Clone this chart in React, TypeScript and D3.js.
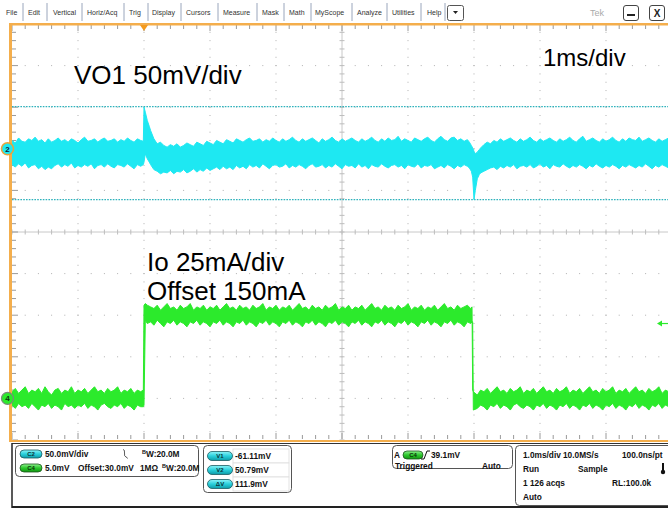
import React from "react";
import * as d3 from "d3";

const W = 668;
const H = 510;

// ---------- data ----------
const timeDomainMs: [number, number] = [-2, 8];
const divDomain: [number, number] = [-5, 5];
const vo1MvPerDiv = 50;
const vo1PositionDiv = 2;
const ioMaPerDiv = 25;
const ioOffsetMa = 150;
const ioPositionDiv = -4;
const cursorMv = [-61.11, 50.79];

// [time ms, upper envelope mV, lower envelope mV]
const vo1Band: [number, number, number][] = [
  [-2.00, 10, -19], [-1.95, 7, -22], [-1.90, 13, -18], [-1.85, 9, -21], [-1.80, 8, -17],
  [-1.75, 12, -23], [-1.70, 10, -20], [-1.65, 14, -19], [-1.60, 9, -24], [-1.55, 11, -21],
  [-1.50, 7, -25], [-1.45, 12, -22], [-1.40, 8, -24], [-1.35, 10, -20], [-1.30, 13, -18],
  [-1.25, 9, -22], [-1.20, 11, -19], [-1.15, 8, -21], [-1.10, 12, -17], [-1.05, 10, -23],
  [-1.00, 7, -20], [-0.95, 11, -22], [-0.90, 14, -19], [-0.85, 9, -21], [-0.80, 10, -18],
  [-0.75, 12, -24], [-0.70, 8, -20], [-0.65, 11, -19], [-0.60, 13, -22], [-0.55, 9, -18],
  [-0.50, 10, -21], [-0.45, 12, -23], [-0.40, 8, -19], [-0.35, 11, -20], [-0.30, 9, -22],
  [-0.25, 13, -18], [-0.20, 10, -21], [-0.15, 8, -24], [-0.10, 12, -19], [-0.05, 10, -21],
  [-0.01, 9, -19], [0.00, 50, -16], [0.02, 44, -6], [0.05, 34, -12], [0.08, 27, -16],
  [0.10, 22, -19], [0.15, 12, -25], [0.20, 6, -27], [0.25, 8, -30], [0.30, 4, -28],
  [0.35, 2, -29], [0.40, 5, -26], [0.45, 3, -30], [0.50, 6, -27], [0.55, 2, -28],
  [0.60, 4, -25], [0.65, 7, -29], [0.70, 5, -27], [0.75, 3, -24], [0.80, 8, -28],
  [0.85, 6, -25], [0.90, 4, -27], [0.95, 9, -23], [1.00, 7, -26], [1.05, 5, -24],
  [1.10, 10, -22], [1.15, 8, -25], [1.20, 6, -21], [1.25, 11, -24], [1.30, 9, -22],
  [1.35, 7, -25], [1.40, 12, -20], [1.45, 10, -23], [1.50, 8, -21], [1.55, 11, -24],
  [1.60, 13, -19], [1.65, 9, -22], [1.70, 10, -20], [1.75, 12, -23], [1.80, 8, -18],
  [1.85, 11, -21], [1.90, 9, -24], [1.95, 13, -20], [2.00, 10, -19], [2.05, 8, -22],
  [2.10, 12, -21], [2.15, 9, -18], [2.20, 11, -23], [2.25, 14, -20], [2.30, 10, -22],
  [2.35, 8, -19], [2.40, 12, -21], [2.45, 9, -24], [2.50, 11, -20], [2.55, 13, -18],
  [2.60, 10, -22], [2.65, 7, -21], [2.70, 12, -19], [2.75, 9, -23], [2.80, 11, -20],
  [2.85, 14, -22], [2.90, 10, -18], [2.95, 8, -21], [3.00, 12, -24], [3.05, 9, -19],
  [3.10, 11, -21], [3.15, 13, -20], [3.20, 10, -23], [3.25, 8, -18], [3.30, 12, -22],
  [3.35, 9, -20], [3.40, 11, -24], [3.45, 14, -19], [3.50, 10, -21], [3.55, 8, -22],
  [3.60, 12, -18], [3.65, 9, -21], [3.70, 13, -23], [3.75, 10, -20], [3.80, 11, -19],
  [3.85, 15, -22], [3.90, 9, -20], [3.95, 12, -24], [4.00, 10, -19], [4.05, 8, -21],
  [4.10, 13, -22], [4.15, 11, -18], [4.20, 9, -23], [4.25, 12, -20], [4.30, 14, -21],
  [4.35, 10, -19], [4.40, 8, -24], [4.45, 12, -22], [4.50, 15, -20], [4.55, 11, -23],
  [4.60, 9, -19], [4.65, 13, -21], [4.70, 14, -24], [4.75, 10, -20], [4.80, 12, -22],
  [4.85, 9, -19], [4.90, 11, -21], [4.93, 8, -23], [4.96, 4, -27], [4.98, 1, -34],
  [5.00, -3, -61], [5.02, -6, -50], [5.05, -4, -36], [5.08, -1, -31], [5.10, 1, -29],
  [5.15, 5, -27], [5.20, 8, -25], [5.25, 6, -23], [5.30, 10, -22], [5.35, 8, -25],
  [5.40, 12, -21], [5.45, 9, -23], [5.50, 11, -20], [5.55, 13, -22], [5.60, 10, -19],
  [5.65, 8, -24], [5.70, 12, -21], [5.75, 9, -20], [5.80, 11, -22], [5.85, 14, -19],
  [5.90, 10, -23], [5.95, 8, -21], [6.00, 12, -18], [6.05, 9, -22], [6.10, 11, -20],
  [6.15, 13, -24], [6.20, 10, -19], [6.25, 8, -21], [6.30, 12, -22], [6.35, 9, -18],
  [6.40, 11, -21], [6.45, 14, -23], [6.50, 10, -20], [6.55, 8, -22], [6.60, 12, -19],
  [6.65, 15, -21], [6.70, 9, -24], [6.75, 11, -20], [6.80, 13, -22], [6.85, 10, -18],
  [6.90, 8, -21], [6.95, 12, -23], [7.00, 9, -20], [7.05, 11, -22], [7.10, 14, -19],
  [7.15, 10, -21], [7.20, 8, -24], [7.25, 12, -20], [7.30, 9, -22], [7.35, 13, -19],
  [7.40, 11, -21], [7.45, 10, -23], [7.50, 14, -20], [7.55, 9, -22], [7.60, 11, -18],
  [7.65, 13, -21], [7.70, 10, -24], [7.75, 8, -20], [7.80, 12, -22], [7.85, 9, -19],
  [7.90, 11, -21], [7.95, 13, -23], [8.00, 10, -20],
];

// [time ms, upper envelope mA, lower envelope mA]
const ioBand: [number, number, number][] = [
  [-2.00, 154, 146], [-1.95, 156, 144], [-1.90, 153, 147], [-1.85, 155, 145], [-1.80, 157, 146],
  [-1.75, 153, 144], [-1.70, 155, 147], [-1.65, 154, 145], [-1.60, 156, 143], [-1.55, 153, 146],
  [-1.50, 157, 145], [-1.45, 154, 147], [-1.40, 152, 144], [-1.35, 155, 146], [-1.30, 156, 145],
  [-1.25, 153, 143], [-1.20, 155, 147], [-1.15, 154, 145], [-1.10, 157, 146], [-1.05, 153, 144],
  [-1.00, 155, 146], [-0.95, 154, 145], [-0.90, 156, 147], [-0.85, 153, 144], [-0.80, 155, 146],
  [-0.75, 157, 145], [-0.70, 154, 143], [-0.65, 155, 146], [-0.60, 153, 147], [-0.55, 156, 145],
  [-0.50, 154, 144], [-0.45, 155, 146], [-0.40, 157, 145], [-0.35, 153, 147], [-0.30, 155, 144],
  [-0.25, 154, 146], [-0.20, 156, 145], [-0.15, 153, 143], [-0.10, 155, 146], [-0.05, 154, 145],
  [-0.01, 155, 145], [0.00, 206, 146], [0.02, 207, 197], [0.05, 206, 195], [0.10, 205, 196],
  [0.15, 204, 194], [0.20, 206, 197], [0.25, 203, 195], [0.30, 205, 193], [0.35, 207, 196],
  [0.40, 204, 195], [0.45, 205, 197], [0.50, 203, 194], [0.55, 206, 196], [0.60, 204, 195],
  [0.65, 205, 193], [0.70, 207, 196], [0.75, 203, 195], [0.80, 205, 197], [0.85, 204, 194],
  [0.90, 206, 196], [0.95, 203, 195], [1.00, 205, 193], [1.05, 204, 196], [1.10, 206, 195],
  [1.15, 203, 197], [1.20, 205, 194], [1.25, 207, 196], [1.30, 204, 195], [1.35, 205, 193],
  [1.40, 203, 196], [1.45, 206, 195], [1.50, 204, 197], [1.55, 205, 194], [1.60, 203, 196],
  [1.65, 206, 195], [1.70, 204, 193], [1.75, 205, 196], [1.80, 207, 195], [1.85, 203, 197],
  [1.90, 205, 194], [1.95, 204, 196], [2.00, 206, 195], [2.05, 203, 193], [2.10, 205, 196],
  [2.15, 204, 195], [2.20, 206, 197], [2.25, 203, 194], [2.30, 205, 196], [2.35, 207, 195],
  [2.40, 204, 193], [2.45, 205, 196], [2.50, 203, 195], [2.55, 206, 197], [2.60, 204, 194],
  [2.65, 205, 196], [2.70, 203, 195], [2.75, 206, 193], [2.80, 204, 196], [2.85, 205, 195],
  [2.90, 207, 197], [2.95, 203, 194], [3.00, 205, 196], [3.05, 204, 195], [3.10, 206, 193],
  [3.15, 203, 196], [3.20, 205, 195], [3.25, 204, 197], [3.30, 206, 194], [3.35, 203, 196],
  [3.40, 205, 195], [3.45, 207, 193], [3.50, 204, 196], [3.55, 205, 195], [3.60, 203, 197],
  [3.65, 206, 194], [3.70, 204, 196], [3.75, 205, 195], [3.80, 203, 193], [3.85, 206, 196],
  [3.90, 204, 195], [3.95, 205, 197], [4.00, 207, 194], [4.05, 203, 196], [4.10, 205, 195],
  [4.15, 204, 193], [4.20, 206, 196], [4.25, 203, 195], [4.30, 205, 197], [4.35, 204, 194],
  [4.40, 206, 196], [4.45, 203, 195], [4.50, 205, 193], [4.55, 207, 196], [4.60, 204, 195],
  [4.65, 205, 197], [4.70, 203, 194], [4.75, 206, 196], [4.80, 204, 195], [4.85, 205, 193],
  [4.90, 206, 196], [4.95, 204, 195], [4.97, 205, 196], [4.98, 155, 196], [4.99, 154, 143],
  [5.05, 152, 144], [5.10, 155, 146], [5.15, 154, 145], [5.20, 156, 143], [5.25, 153, 146],
  [5.30, 155, 145], [5.35, 157, 147], [5.40, 154, 144], [5.45, 155, 146], [5.50, 153, 145],
  [5.55, 156, 143], [5.60, 154, 146], [5.65, 155, 147], [5.70, 157, 145], [5.75, 153, 144],
  [5.80, 155, 146], [5.85, 154, 145], [5.90, 156, 143], [5.95, 153, 146], [6.00, 155, 145],
  [6.05, 157, 147], [6.10, 154, 144], [6.15, 155, 146], [6.20, 153, 145], [6.25, 156, 143],
  [6.30, 154, 146], [6.35, 155, 145], [6.40, 157, 147], [6.45, 153, 144], [6.50, 155, 146],
  [6.55, 154, 145], [6.60, 156, 143], [6.65, 153, 146], [6.70, 155, 145], [6.75, 157, 147],
  [6.80, 154, 144], [6.85, 155, 146], [6.90, 153, 145], [6.95, 156, 143], [7.00, 154, 146],
  [7.05, 155, 145], [7.10, 157, 147], [7.15, 153, 144], [7.20, 155, 146], [7.25, 154, 145],
  [7.30, 156, 143], [7.35, 153, 146], [7.40, 155, 145], [7.45, 157, 147], [7.50, 154, 144],
  [7.55, 155, 146], [7.60, 153, 145], [7.65, 156, 143], [7.70, 154, 146], [7.75, 155, 145],
  [7.80, 157, 147], [7.85, 153, 144], [7.90, 155, 146], [7.95, 154, 145], [8.00, 156, 144],
];

const menuItems = ["File", "Edit", "Vertical", "Horiz/Acq", "Trig", "Display", "Cursors",
  "Measure", "Mask", "Math", "MyScope", "Analyze", "Utilities", "Help"];
const chartLabels = ["VO1 50mV/div", "1ms/div", "Io 25mA/div", "Offset 150mA"];
const ch2Readout = ["50.0mV/div", "20.0M"];
const ch4Readout = ["5.0mV", "Offset:30.0mV", "1MΩ", "20.0M"];
const cursorReadout = [["V1", "-61.11mV"], ["V2", "50.79mV"], ["ΔV", "111.9mV"]];
const triggerReadout = ["A", "C4", "39.1mV", "Triggered", "Auto"];
const acqReadout = ["1.0ms/div", "10.0MS/s", "100.0ns/pt", "Run", "Sample", "1 126 acqs", "RL:100.0k", "Auto"];

// ---------- layout ----------
const SX0 = 12, SX1 = 672, SY0 = 24, SY1 = 440;
const menuLayoutX = [6, 28, 53, 87, 129, 152, 186, 223, 262, 289, 315, 357, 392, 427];
const menuSepX = [23, 47, 82, 124, 148, 181, 218, 257, 284, 311, 352, 387, 421, 445];
const FONT = "'Liberation Sans', Arial, sans-serif";
const ORANGE = "#f4ae4c";
const CYAN = "#1ee8f2";
const GREEN = "#2cea2c";

const x = d3.scaleLinear().domain(timeDomainMs).range([SX0, SX1]);
const yDiv = d3.scaleLinear().domain(divDomain).range([SY1, SY0]);
const yVo = (mv: number) => yDiv(vo1PositionDiv + mv / vo1MvPerDiv);
const yIo = (ma: number) => yDiv(ioPositionDiv + (ma - ioOffsetMa) / ioMaPerDiv);

function Pill({ cx, cy, w, h, kind, label }: { cx: number; cy: number; w: number; h: number; kind: "c" | "g"; label: string }) {
  return (
    <g>
      <rect x={cx - w / 2} y={cy - h / 2} width={w} height={h} rx={h / 2}
        fill={`url(#pill-${kind})`} stroke={kind === "c" ? "#1c5c62" : "#1d561d"} strokeWidth={0.8} />
      <text x={cx} y={cy + 2.2} textAnchor="middle" fontSize={6} fontWeight="bold"
        fill={kind === "c" ? "#0d3438" : "#0c300c"} fontFamily={FONT}>{label}</text>
    </g>
  );
}

export default function App() {
  const minorX = d3.range(0, 51).map((i) => SX0 + (i * (SX1 - SX0)) / 50);
  const minorY = d3.range(0, 51).map((j) => SY0 + (j * (SY1 - SY0)) / 50);
  const majorX = d3.range(0, 11).map((i) => x(timeDomainMs[0] + i));
  const majorY = d3.range(-5, 6).map((d) => yDiv(d));

  const voArea = d3.area<[number, number, number]>()
    .x((d) => x(d[0])).y0((d) => yVo(d[2])).y1((d) => yVo(d[1]));
  const voHi = d3.line<[number, number, number]>().x((d) => x(d[0])).y((d) => yVo(d[1]));
  const voLo = d3.line<[number, number, number]>().x((d) => x(d[0])).y((d) => yVo(d[2]));
  const ioArea = d3.area<[number, number, number]>()
    .x((d) => x(d[0])).y0((d) => yIo(d[2])).y1((d) => yIo(d[1]));
  const ioHi = d3.line<[number, number, number]>().x((d) => x(d[0])).y((d) => yIo(d[1]));
  const ioLo = d3.line<[number, number, number]>().x((d) => x(d[0])).y((d) => yIo(d[2]));

  const cx = x(3); // screen centre column
  const cy = yDiv(0);

  const dots: JSX.Element[] = [];
  majorX.forEach((gx, i) => {
    if (i === 0 || i === 5) return;
    minorY.forEach((gy, j) => {
      if (j === 0 || j === 50) return;
      dots.push(<rect key={`v${i}-${j}`} x={gx - 0.5} y={gy - 0.5} width={1} height={1} fill="#b0b0b0" />);
    });
  });
  majorY.forEach((gy, j) => {
    if (j === 0 || j === 5 || j === 10) return;
    minorX.forEach((gx, i) => {
      if (i === 0) return;
      dots.push(<rect key={`h${j}-${i}`} x={gx - 0.5} y={gy - 0.5} width={1} height={1} fill="#b0b0b0" />);
    });
  });

  return (
    <svg width={W} height={H} style={{ position: "absolute", left: 0, top: 0, background: "#fff" }}
      fontFamily={FONT}>
      <defs>
        <linearGradient id="pill-c" x1="0" y1="0" x2="0" y2="1">
          <stop offset="0" stopColor="#8ff4f8" />
          <stop offset="0.5" stopColor="#2ad0dc" />
          <stop offset="1" stopColor="#0f9aa6" />
        </linearGradient>
        <linearGradient id="pill-g" x1="0" y1="0" x2="0" y2="1">
          <stop offset="0" stopColor="#8ff08f" />
          <stop offset="0.5" stopColor="#2cc82c" />
          <stop offset="1" stopColor="#129612" />
        </linearGradient>
        <clipPath id="screen">
          <rect x={SX0} y={SY0} width={W - SX0} height={SY1 - SY0} />
        </clipPath>
      </defs>
      <rect x={0} y={0} width={W} height={H} fill="#fff" />

      {/* menu bar */}
      <g>
        {menuItems.map((m, i) => (
          <text key={m} x={menuLayoutX[i]} y={15} fontSize={7} fill="#333">{m}</text>
        ))}
        {menuSepX.map((sx, i) => (
          <line key={i} x1={sx} x2={sx} y1={3} y2={21} stroke="#9aa6bc" strokeWidth={1} />
        ))}
        <rect x={447.5} y={5.5} width={16} height={15} rx={2} fill="#fff" stroke="#555" />
        <path d="M453 11 L458 11 L455.5 14 Z" fill="#222" />
        <text x={590} y={16} fontSize={9} fill="#aaa">Tek</text>
        <rect x={623.5} y={5.5} width={15} height={15} rx={2.5} fill="#fff" stroke="#444" />
        <rect x={627} y={14} width={8} height={2} fill="#222" />
        <rect x={649.5} y={5.5} width={15} height={15} rx={2.5} fill="#fff" stroke="#444" />
        <text x={657} y={17} fontSize={10} fontWeight="bold" textAnchor="middle" fill="#222">X</text>
      </g>

      {/* graticule */}
      <g clipPath="url(#screen)">
        {dots}
        <line x1={SX0} x2={SX1} y1={cy} y2={cy} stroke="#c8c8c8" strokeWidth={1} />
        <line x1={cx} x2={cx} y1={SY0} y2={SY1} stroke="#c8c8c8" strokeWidth={1} />
        {minorX.map((gx, i) => (
          <line key={`ct${i}`} x1={gx} x2={gx} y1={cy - 2.5} y2={cy + 2.5} stroke="#bdbdbd" />
        ))}
        {minorY.map((gy, j) => (
          <line key={`cv${j}`} x1={cx - 2.5} x2={cx + 2.5} y1={gy} y2={gy} stroke="#bdbdbd" />
        ))}
        {minorX.map((gx, i) => (
          <line key={`tt${i}`} x1={gx} x2={gx} y1={SY0 + 1} y2={SY0 + (i % 5 === 0 ? 7 : 5)} stroke="#9a9a9a" />
        ))}
        {minorX.map((gx, i) => (
          <line key={`bt${i}`} x1={gx} x2={gx} y1={SY1 - 1} y2={SY1 - (i % 5 === 0 ? 7 : 5)} stroke="#9a9a9a" />
        ))}
        {minorY.map((gy, j) => (
          <line key={`lt${j}`} x1={SX0} x2={SX0 + (j % 5 === 0 ? 6 : 4)} y1={gy} y2={gy} stroke="#9a9a9a" />
        ))}

        {/* cursors */}
        {cursorMv.map((v, i) => (
          <line key={`cur${i}`} x1={SX0} x2={W} y1={yVo(v)} y2={yVo(v)} stroke="#2fb2bc"
            strokeWidth={1.2} strokeDasharray="1.6,1.2" />
        ))}

        {/* traces */}
        <path d={ioArea(ioBand) || ""} fill={GREEN} />
        <path d={ioHi(ioBand) || ""} fill="none" stroke={GREEN} strokeWidth={1} />
        <path d={ioLo(ioBand) || ""} fill="none" stroke={GREEN} strokeWidth={1} />
        <path d={voArea(vo1Band) || ""} fill={CYAN} />
        <path d={voHi(vo1Band) || ""} fill="none" stroke={CYAN} strokeWidth={1} />
        <path d={voLo(vo1Band) || ""} fill="none" stroke={CYAN} strokeWidth={1} />
      </g>

      {/* orange frame */}
      <rect x={9} y={SY0 - 1} width={W - 9} height={2.5} fill={ORANGE} />
      <rect x={9} y={SY0 - 1} width={3} height={SY1 - SY0 + 2.5} fill={ORANGE} />
      <rect x={9} y={SY1} width={W - 9} height={2} fill={ORANGE} />
      <path d={`M${x(0) - 4} ${SY0 + 1} L${x(0) + 4} ${SY0 + 1} L${x(0)} ${SY0 + 7} Z`} fill="#f39a1e" />

      {/* channel markers */}
      <circle cx={7.5} cy={yVo(0)} r={6} fill={CYAN} stroke="#e8a33c" strokeWidth={1.6} />
      <text x={7.5} y={yVo(0) + 3} fontSize={8} fontWeight="bold" textAnchor="middle" fill="#123">2</text>
      <circle cx={7.5} cy={yIo(ioOffsetMa)} r={6} fill={GREEN} stroke="#7a8a7a" strokeWidth={1.2} />
      <text x={7.5} y={yIo(ioOffsetMa) + 3} fontSize={8} fontWeight="bold" textAnchor="middle" fill="#131">4</text>
      {/* trigger level arrow */}
      <path d={`M657 ${yIo(195)} L662 ${yIo(195) - 3} L662 ${yIo(195) + 3} Z`} fill={GREEN} />
      <line x1={662} x2={668} y1={yIo(195)} y2={yIo(195)} stroke={GREEN} strokeWidth={1.2} />

      {/* annotations */}
      <text x={74} y={84} fontSize={26} fill="#000">{chartLabels[0]}</text>
      <text x={543} y={66} fontSize={24} fill="#000">{chartLabels[1]}</text>
      <text x={147} y={271} fontSize={26} fill="#000">{chartLabels[2]}</text>
      <text x={147} y={300} fontSize={26} fill="#000">{chartLabels[3]}</text>

      {/* bottom panel */}
      <line x1={12} x2={W} y1={443.5} y2={443.5} stroke="#333" strokeWidth={1} />
      <line x1={12} x2={12} y1={443} y2={508} stroke="#222" strokeWidth={1.5} />
      <line x1={12} x2={W} y1={507} y2={507} stroke="#222" strokeWidth={2} />

      <g fontSize={8.3} fontWeight="bold" fill="#111">
        <rect x={15.5} y={445.5} width={183} height={31} rx={4} fill="#fff" stroke="#555" />
        <Pill cx={31} cy={454} w={22} h={8} kind="c" label="C2" />
        <text x={45} y={457}>{ch2Readout[0]}</text>
        <path d="M123 449.5 q2 0 1.5 3.5 t1.5 4 q1.5 0.5 1.5 1.5" fill="none" stroke="#333" strokeWidth={0.8} />
        <text x={142} y={457}><tspan fontSize={5.5} dy={-3}>B</tspan><tspan dy={3}>W:{ch2Readout[1]}</tspan></text>
        <Pill cx={31} cy={468} w={22} h={8} kind="g" label="C4" />
        <text x={45} y={471}>{ch4Readout[0]}</text>
        <text x={78} y={471}>{ch4Readout[1]}</text>
        <text x={140} y={471}>{ch4Readout[2]}</text>
        <text x={162} y={471}><tspan fontSize={5.5} dy={-3}>B</tspan><tspan dy={3}>W:{ch4Readout[3]}</tspan></text>

        <rect x={203.5} y={445.5} width={88} height={47} rx={4} fill="#fff" stroke="#555" />
        {cursorReadout.map((r, i) => (
          <g key={r[0]}>
            <rect x={233} y={449 + i * 14} width={56} height={14} fill="#fff" stroke="#ddd" strokeWidth={0.8} />
            <Pill cx={220} cy={456 + i * 14} w={25} h={9} kind="c" label={r[0]} />
            <text x={235} y={459 + i * 14}>{r[1]}</text>
          </g>
        ))}

        <rect x={392.5} y={445.5} width={120} height={23} rx={4} fill="#fff" stroke="#555" />
        <text x={394} y={458}>{triggerReadout[0]}</text>
        <Pill cx={413} cy={455} w={20} h={8} kind="g" label={triggerReadout[1]} />
        <path d="M421 459 L424 459 L427 451 L430 451" fill="none" stroke="#111" strokeWidth={1} />
        <text x={431} y={458}>{triggerReadout[2]}</text>
        <text x={395} y={469}>{triggerReadout[3]}</text>
        <text x={482} y={469}>{triggerReadout[4]}</text>

        <rect x={515.5} y={445.5} width={160} height={60} rx={4} fill="#fff" stroke="#555" />
        <text x={523} y={458}>{acqReadout[0]}</text>
        <text x={563} y={458}>{acqReadout[1]}</text>
        <text x={622} y={458}>{acqReadout[2]}</text>
        <text x={523} y={472}>{acqReadout[3]}</text>
        <text x={578} y={472}>{acqReadout[4]}</text>
        <rect x={662} y={463} width={2} height={8} fill="#111" />
        <circle cx={663} cy={472} r={2.2} fill="#111" />
        <text x={523} y={486}>{acqReadout[5]}</text>
        <text x={612} y={486}>{acqReadout[6]}</text>
        <text x={523} y={500}>{acqReadout[7]}</text>
      </g>
    </svg>
  );
}
